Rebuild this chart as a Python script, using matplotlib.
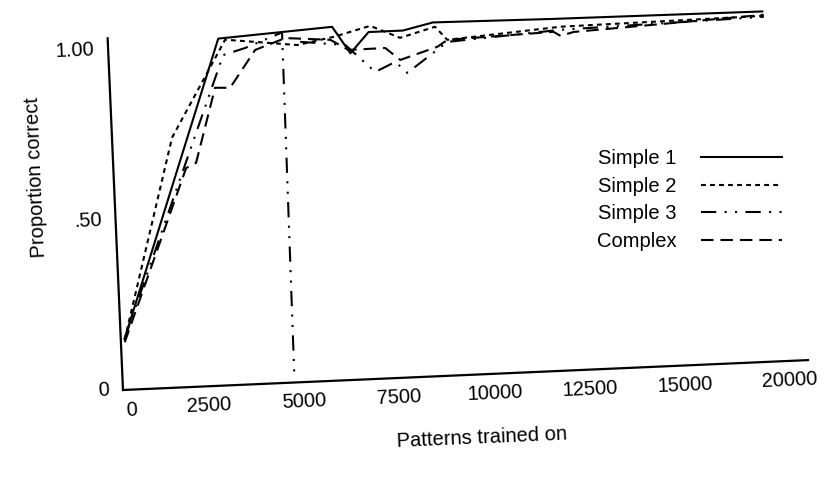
import matplotlib
matplotlib.use("Agg")
import matplotlib.pyplot as plt
from matplotlib.transforms import Affine2D

plt.rcParams['font.family'] = ['Liberation Sans', 'DejaVu Sans']
plt.rcParams['lines.scale_dashes'] = False

simple1_x = [100, 2900, 5900, 6350, 6850, 7750, 8550, 11650, 17200]
simple1_y = [0.15, 1.02, 1.04, 0.96, 1.02, 1.02, 1.04, 1.035, 1.03]

simple2_x = [100, 1575, 3080, 4965, 5915, 6900, 7670, 8600, 8905, 11885, 17230]
simple2_y = [0.147, 0.735, 1.016, 0.991, 1.01, 1.038, 0.999, 1.027, 0.987, 1.011, 1.017]

# simple 3 falls to ~0 just before 5000, the curve is broken there
nan = float('nan')
simple3_x = [100, 3010, 3595, 4580, 4510, nan, 5045, 6225, 6980, 7520, 7820, 8905, 11890, 17230]
simple3_y = [0.15, 0.971, 0.989, 1.03, 0.03, nan, 1.0, 0.985, 0.902, 0.929, 0.895, 0.981, 1.002, 1.014]

complex_x = [100, 1910, 2177, 2760, 3155, 3855, 4660, 5840, 6300, 7270, 7650, 8640, 8910, 11700, 11880, 12230, 17230]
complex_y = [0.14, 0.644, 0.658, 0.876, 0.874, 0.982, 1.013, 1.002, 0.970, 0.971, 0.934, 0.968, 0.987, 0.997, 0.984, 0.994, 1.02]

y_ticks = [0, 0.5, 1.0]
y_labels = ['0', '.50', '1.00']
# the printed "20000" sits where 17750 would be on this axis
x_ticks = [0, 2500, 5000, 7500, 10000, 12500, 15000, 17750]
x_labels = ['0', '2500', '5000', '7500', '10000', '12500', '15000', '20000']

x_max = 18000
y_max = 1.035
tilt_deg = 2.5
fs = 14.5

# ----- figure -----
fig = plt.figure(figsize=(8.27, 4.84), dpi=100)
ax = fig.add_axes([123 / 827, 94 / 484, 685.7 / 827, 352 / 484])
ax.set_xlim(0, x_max)
ax.set_ylim(0, y_max)
ax.axis('off')

# the scan is rotated a little, so rotate everything about the origin
ox, oy = ax.transData.transform((0, 0))
tr = ax.transData + Affine2D().rotate_deg_around(ox, oy, tilt_deg)

kw = dict(color='black', lw=1.5, transform=tr, clip_on=False)
ax.plot(simple1_x, simple1_y, linestyle='-', label='Simple 1', **kw)
ax.plot(simple2_x, simple2_y, linestyle=(0, (3.5, 3)), label='Simple 2', **kw)
ax.plot(simple3_x, simple3_y, linestyle=(0, (11, 6, 1.5, 6, 1.5, 6)), label='Simple 3', **kw)
ax.plot(complex_x, complex_y, linestyle=(0, (9, 5)), label='Complex', **kw)

# axis lines
ax.plot([0, x_max], [0, 0], color='black', lw=1.6, transform=tr, clip_on=False)
ax.plot([0, 0], [0, y_max], color='black', lw=1.6, transform=tr, clip_on=False)

# tick labels
for xt, lab in zip(x_ticks, x_labels):
    dx = 9 if lab == '0' else -9
    ax.text(xt, 0, lab, transform=tr + Affine2D().translate(dx, -20),
            ha='center', va='center', rotation=tilt_deg, rotation_mode='anchor',
            fontsize=fs, clip_on=False)
for yt, lab in zip(y_ticks, y_labels):
    ax.text(0, yt, lab, transform=tr + Affine2D().translate(-14, 0),
            ha='right', va='center', rotation=tilt_deg, rotation_mode='anchor',
            fontsize=fs, clip_on=False)

ax.text(-2040, 0.637, 'Proportion correct', transform=tr, rotation=90 + tilt_deg,
        rotation_mode='anchor', ha='center', va='center', fontsize=fs, clip_on=False)
ax.text(9360, -0.187, 'Patterns trained on', transform=tr, rotation=tilt_deg,
        rotation_mode='anchor', ha='center', va='center', fontsize=fs, clip_on=False)

ax.legend(loc='upper left', bbox_to_anchor=(0.722, 0.692), bbox_transform=fig.transFigure,
          markerfirst=False, frameon=False, fontsize=fs, handlelength=4.05,
          handletextpad=1.2, labelspacing=0.43, borderpad=0, borderaxespad=0)

plt.savefig('out.png', dpi=100)
